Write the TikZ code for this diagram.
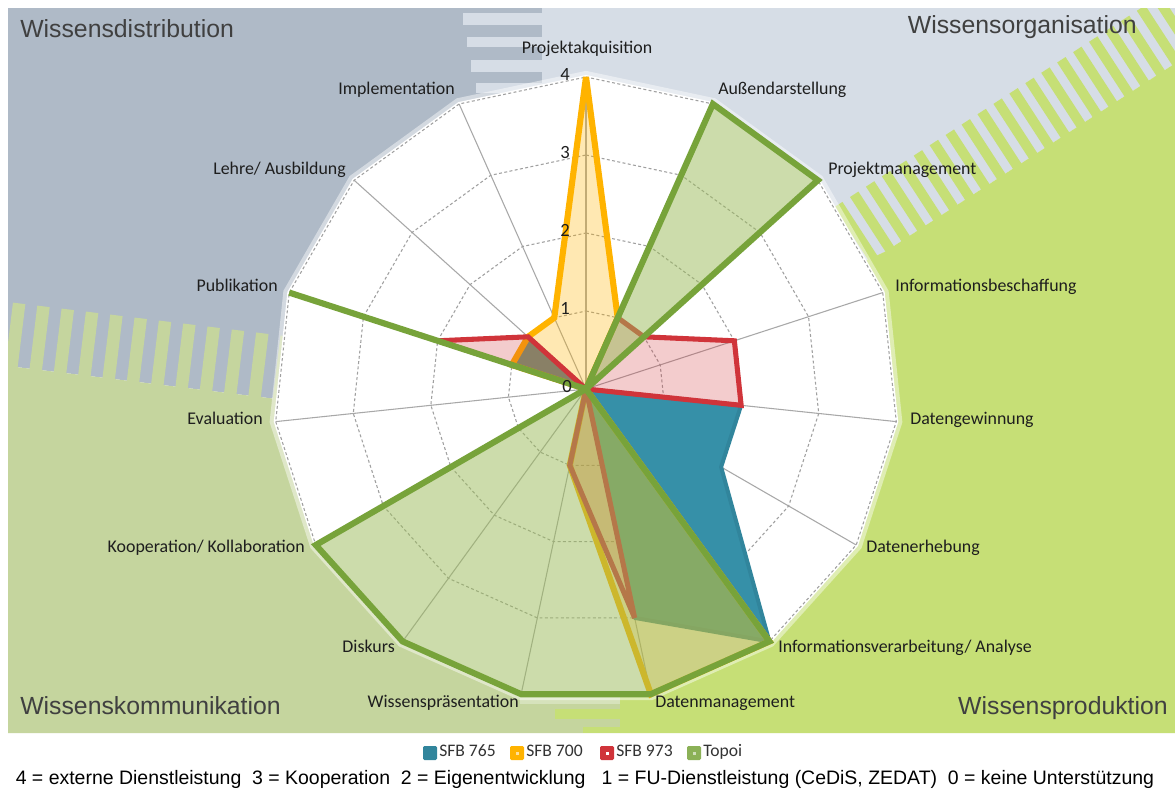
\documentclass[tikz,border=0pt]{standalone}
\usepackage{fontspec}
\setmainfont{Carlito}
\newfontfamily\arialf{Liberation Sans}
\usetikzlibrary{calc}
\definecolor{bgdark}{HTML}{AFBAC7}
\definecolor{bglight}{HTML}{D6DDE6}
\definecolor{bgolive}{HTML}{C5D59E}
\definecolor{bggreen}{HTML}{C6DF76}
\definecolor{sblue}{HTML}{31859C}
\definecolor{sbluefill}{HTML}{3690A8}
\definecolor{sorange}{HTML}{FFB300}
\definecolor{sred}{HTML}{D0343A}
\definecolor{sgreen}{HTML}{77A33A}
\definecolor{sgreenfill}{HTML}{9BBB59}
\definecolor{gridc}{HTML}{A0A0A0}
\definecolor{axisc}{HTML}{A8A8A8}
\definecolor{titlec}{HTML}{404040}
\definecolor{labelc}{HTML}{1E1E1E}
\newcommand\radarseries[3]{%
  \path[#1] (-90:{#2*78}) \foreach \v [count=\k] in {#3} { -- ({24*\k-90}:{\v*78}) } -- cycle;}
\tikzset{
  axlabel/.style={font=\fontsize{13.4}{15}\selectfont, text=labelc, inner sep=0pt},
  ticklabel/.style={font=\fontsize{14}{16}\selectfont, text=labelc, inner sep=0pt, anchor=mid east},
  regiontitle/.style={font=\arialf\fontsize{18.6}{22}\selectfont, text=titlec, inner sep=0pt},
  legtext/.style={font=\fontsize{13.2}{15}\selectfont, text=black!80, inner sep=0pt, anchor=mid west},
  gridline/.style={gridc, line width=0.8pt, dash pattern=on 2.2pt off 1.8pt},
  axisline/.style={axisc, line width=0.8pt},
  series/.style={line join=miter, miter limit=2}
}
\begin{document}
\begin{tikzpicture}[x=0.75pt,y=-0.75pt]
\useasboundingbox (0,0) rectangle (1175,793);
\fill[white] (0,0) rectangle (1175,793);

% ---------- background regions ----------
\fill[bgdark] (8,8) -- (542,8) -- (542,95) -- (586,389) -- (586,437) -- (8,366) -- cycle;
\fill[bglight] (542,8) -- (1175,8) -- (1175,63.5) -- (885.4,251.5) -- (586,389) -- (542,95) -- cycle;
\fill[bgolive] (8,366) -- (586,437) -- (620,690) -- (620,733) -- (8,733) -- cycle;
\fill[bggreen] (586,389) -- (885.4,251.5) -- (1175,63.5) -- (1175,733) -- (620,733) -- (620,690) -- cycle;

\begin{scope}
\clip (8,8) rectangle (1175,733);
% right band stripes
\foreach \i in {-4,...,21} {
  \pgfmathsetmacro\xa{850+19*\i*0.8387}
  \pgfmathsetmacro\ya{197-19*\i*0.5446}
  \fill[bggreen] (\xa,\ya) -- ++(8.387,-5.446) -- ++(35.9,55.3) -- ++(-8.387,5.446) -- cycle;
}
% left band stripes
\foreach \i in {0,...,11} {
  \pgfmathsetmacro\xa{8+(24.5*\i+5)*0.9925}
  \pgfmathsetmacro\ya{302+(24.5*\i+5)*0.1219}
  \fill[bgolive] (\xa,\ya) -- ++(12.4,1.52) -- ++(-8.0,65.5) -- ++(-12.4,-1.52) -- cycle;
}
% top band bars
\foreach \ya/\yb/\xa/\xb in {13/25/463/545, 37/47/467/545, 60/72/471/545, 83/93/476/545} {
  \fill[bglight] (\xa,\ya) rectangle (\xb,\yb);
}
% bottom band bars
\fill[bgolive!70!white] (520,697) rectangle (620,704);
\fill[bggreen] (555,709) rectangle (620,719);
\fill[bggreen] (583,727) rectangle (620,733);
\end{scope}

% ---------- chart ----------
\begin{scope}[shift={(586,389)}]
  \draw[white, line width=9pt, opacity=0.45] (-90:312) \foreach \k in {1,...,14} { -- ({24*\k-90}:312) } -- cycle;
  \fill[white] (-90:314) \foreach \k in {1,...,14} { -- ({24*\k-90}:314) } -- cycle;
  \foreach \k in {0,...,14} \draw[axisline] (0,0) -- ({24*\k-90}:312);
  \foreach \r in {1,2,3,4}
    \draw[gridline] (-90:{\r*78}) \foreach \k in {1,...,14} { -- ({24*\k-90}:{\r*78}) } -- cycle;

  % series: SFB 765, SFB 700, SFB 973, Topoi
  \radarseries{series, fill=sbluefill, draw=sblue, line width=3pt, line join=round}{0}{0,0,0,2,2,4,3,0,0,0,0,1,1,0}
  \radarseries{series, fill=sorange, fill opacity=0.3, draw=sorange, line width=4.6pt}{4}{1,0,0,0,0,4,4,1,0,0,0,1,1,1}
  \radarseries{series, fill=sred, fill opacity=0.25, draw=sred, line width=3.8pt}{0}{1,1,2,2,0,0,3,1,0,0,0,2,1,0}
  \radarseries{series, fill=sgreenfill, fill opacity=0.5, draw=sgreen, line width=4.6pt}{0}{4,4,0,0,0,4,4,4,4,4,0,4,0,0}
\end{scope}

% tick labels
\node[ticklabel] (t4) at (570,77) {4};
\node[ticklabel] (t3) at (570,155) {3};
\node[ticklabel] (t2) at (570,233) {2};
\node[ticklabel] (t1) at (570,311) {1};
\node[ticklabel] (t0) at (572,389) {0};

% axis labels
\node[axlabel, anchor=mid] (l0) at (587,50) {Projektakquisition};
\node[axlabel, anchor=mid west] (l1) at (718,91) {Außendarstellung};
\node[axlabel, anchor=mid west] (l2) at (828,171) {Projektmanagement};
\node[axlabel, anchor=mid west] (l3) at (895,288) {Informationsbeschaffung};
\node[axlabel, anchor=mid west] (l4) at (910,421) {Datengewinnung};
\node[axlabel, anchor=mid west] (l5) at (866,549) {Datenerhebung};
\node[axlabel, anchor=mid west] (l6) at (778,649) {Informationsverarbeitung/ Analyse};
\node[axlabel, anchor=mid west] (l7) at (655,704) {Datenmanagement};
\node[axlabel, anchor=mid east] (l8) at (519,704) {Wissenspräsentation};
\node[axlabel, anchor=mid east] (l9) at (395,649) {Diskurs};
\node[axlabel, anchor=mid east] (l10) at (305,549) {Kooperation/ Kollaboration};
\node[axlabel, anchor=mid east] (l11) at (263,421) {Evaluation};
\node[axlabel, anchor=mid east] (l12) at (278,288) {Publikation};
\node[axlabel, anchor=mid east] (l13) at (346,171) {Lehre/ Ausbildung};
\node[axlabel, anchor=mid east] (l14) at (455,91) {Implementation};

% region titles
\node[regiontitle, anchor=base west] (rt1) at (20,37) {Wissensdistribution};
\node[regiontitle, anchor=base east] (rt2) at (1137,33) {Wissensorganisation};
\node[regiontitle, anchor=base west] (rt3) at (20,714) {Wissenskommunikation};
\node[regiontitle, anchor=base east] (rt4) at (1168,714) {Wissensproduktion};

% legend
\fill[sblue, rounded corners=1pt] (423,746) rectangle (437,760);
\fill[sorange, rounded corners=1pt] (510,746) rectangle (524,760);
\fill[white, opacity=0.6] (515.5,751.5) rectangle (518.5,754.5);
\fill[sred, rounded corners=1pt] (600,746) rectangle (614,760);
\fill[white] (605.5,751.5) rectangle (608.5,754.5);
\fill[sgreen!85!white, rounded corners=1pt] (687,746) rectangle (701,760);
\fill[white, opacity=0.6] (692.5,751.5) rectangle (695.5,754.5);
\node[legtext] (lg1) at (439,753) {SFB 765};
\node[legtext] (lg2) at (526,753) {SFB 700};
\node[legtext] (lg3) at (616,753) {SFB 973};
\node[legtext] (lg4) at (703,753) {Topoi};

% bottom note
\node[font=\arialf\fontsize{14.6}{17}\selectfont, inner sep=0pt, anchor=mid] (note) at (585,781)
  {4 = externe Dienstleistung\ \ 3 = Kooperation\ \ 2 = Eigenentwicklung\ \ \ 1 = FU-Dienstleistung (CeDiS, ZEDAT)\ \ 0 = keine Unterstützung};
\end{tikzpicture}
\end{document}
